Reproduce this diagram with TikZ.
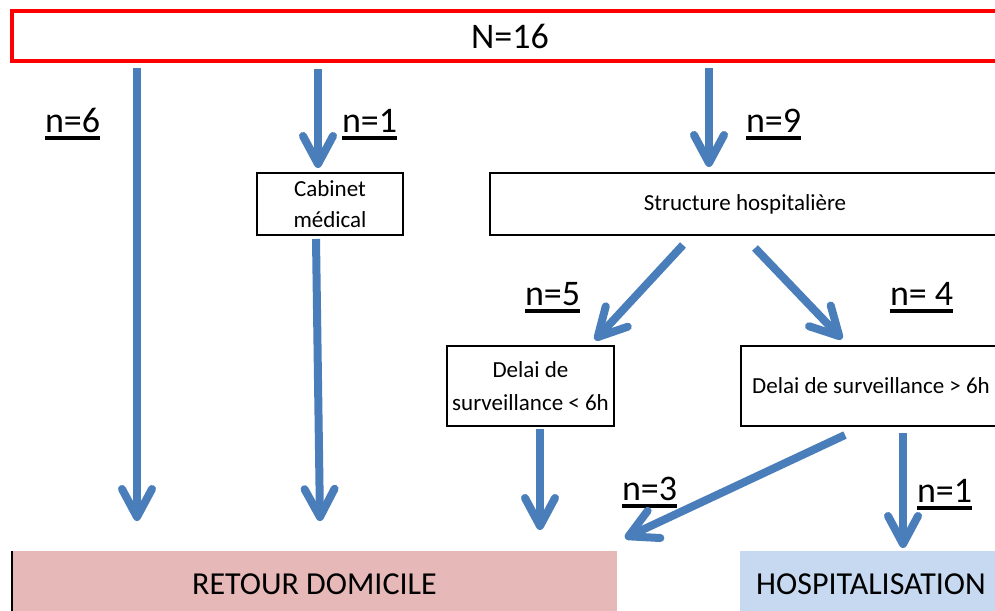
\documentclass[tikz,border=0pt]{standalone}
\usepackage{fontspec}
\setmainfont{Carlito}
\usetikzlibrary{arrows.meta,calc}
\definecolor{arrblue}{HTML}{4A7EBB}
\definecolor{pinkbox}{HTML}{E6B9B8}
\definecolor{bluebox}{HTML}{C6D9F1}
\begin{document}
\begin{tikzpicture}[x=1pt,y=-1pt,
  every node/.style={outer sep=0pt,inner sep=0pt},
  box/.style={draw=black,line width=2pt,fill=white,align=center,font=\fontsize{23}{31}\selectfont},
  endbox/.style={minimum height=66pt,font=\fontsize{32}{38}\selectfont},
  arr/.style={draw=arrblue,line width=8pt,-{Straight Barb[length=28pt,width=30pt,round]}},
  lab/.style={anchor=base west,font=\fontsize{36}{40}\selectfont},
  ul/.style={line width=3.5pt}]
\clip (0,0) rectangle (995,610);
\fill[white] (0,0) rectangle (995,610);
% top box
\node[draw=red,line width=4pt,minimum width=996pt,minimum height=50pt,font=\fontsize{36}{40}\selectfont] (top) at (510,36) {N=16};
% middle boxes
\node[box,minimum width=146pt,minimum height=62pt] (cab) at (330,204) {Cabinet\\médical};
\node[box,minimum width=510pt,minimum height=62pt] (struct) at (745,204) {Structure hospitalière};
\node[box,minimum width=167pt,minimum height=80pt,font=\fontsize{23}{33}\selectfont] (d1) at (530.5,386) {Delai de\\surveillance < 6h};
\node[box,minimum width=260pt,minimum height=80pt] (d2) at (871,386) {Delai de surveillance > 6h};
% bottom boxes
\node[endbox,fill=pinkbox,minimum width=605pt] (home) at (314.5,584) {RETOUR DOMICILE};
\draw[line width=1.5pt] (home.north west) -- (home.south west);
\node[endbox,fill=bluebox,minimum width=262pt] (hosp) at (871,584) {HOSPITALISATION};
% labels
\node[lab] (l6) at (45,132) {n=6};
\node[lab] (l1a) at (342,132) {n=1};
\node[lab] (l9) at (746,132) {n=9};
\node[lab] (l5) at (525,305) {n=5};
\node[lab] (l4) at (890,305) {n= 4};
\node[lab] (l3) at (622,500) {n=3};
\node[lab] (l1b) at (917,502) {n=1};
\foreach \n in {l6,l1a,l9,l5,l4,l3,l1b}
  \draw[ul] ([yshift=-6pt]\n.base west) -- ([yshift=-6pt]\n.base east);
% arrows
\draw[arr] ($(top.south west)+(125,7)$) -- ($(home.north west)+(125,-30)$);
\draw[arr] ($(top.south west)+(306,8)$) -- ($(cab.north)+(-12,-5)$);
\draw[arr] ($(top.south west)+(697,7)$) -- ($(struct.north west)+(219,-6)$);
\draw[arr] ($(cab.south)+(-14,4)$) -- ($(home.north west)+(308,-30)$);
\draw[arr] ($(struct.south west)+(193,10)$) -- ($(d1.north)+(64.5,-6)$);
\draw[arr] ($(struct.south west)+(265,13)$) -- ($(d2.north west)+(101,-7)$);
\draw[arr] ($(d1.south)+(9.5,3)$) -- ($(home.north west)+(528,-21)$);
\draw[arr] ($(d2.south west)+(104,9)$) -- ($(home.north east)+(8,-13)$);
\draw[arr] ($(d2.south west)+(162,7)$) -- ($(hosp.north west)+(163,-3)$);
\end{tikzpicture}
\end{document}
